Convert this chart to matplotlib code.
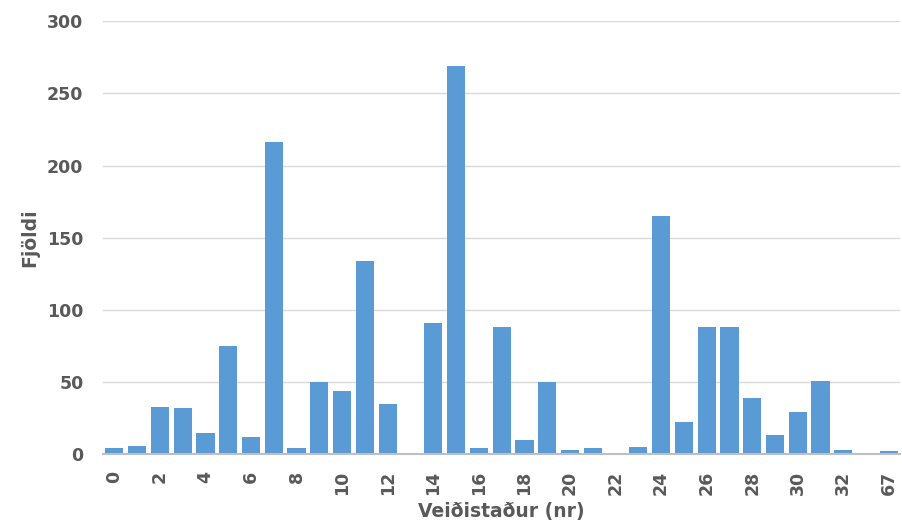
import matplotlib
matplotlib.use("Agg")
import matplotlib.pyplot as plt
import numpy as np

categories = [str(i) for i in range(34)] + ["67"]
values = [4, 6, 33, 32, 15, 75, 12, 216, 4, 50, 44, 134, 35, 1, 91, 269, 4, 88, 10, 50,
          3, 4, 0, 5, 165, 22, 88, 88, 39, 13, 29, 51, 3, 1, 2]
y_ticks = [0, 50, 100, 150, 200, 250, 300]

plt.rcParams['font.family'] = ['DejaVu Sans']
text_color = '#595959'

fig = plt.figure(figsize=(9.03, 5.30), dpi=100)
ax = fig.add_axes([0.114, 0.143, 0.883, 0.817])

x = np.arange(len(categories))
ax.bar(x, values, width=0.8, color='#5B9BD5', zorder=3)

ax.set_xlim(-0.5, len(categories) - 0.5)
ax.set_ylim(0, 300)
ax.set_yticks(y_ticks)
ax.set_yticklabels([str(v) for v in y_ticks], fontsize=12.5, fontweight='bold', color=text_color)
ax.grid(axis='y', color='#D9D9D9', linewidth=1, zorder=0)

ax.set_xticks(x[::2])
ax.set_xticklabels(categories[::2], rotation=90, fontsize=12.5, fontweight='bold', color=text_color)

for s in ['top', 'right', 'left']:
    ax.spines[s].set_visible(False)
ax.spines['bottom'].set_color('#BFBFBF')
ax.spines['bottom'].set_linewidth(1.5)
ax.spines['bottom'].set_zorder(4)
ax.tick_params(axis='both', length=0)
ax.tick_params(axis='y', pad=14)
ax.tick_params(axis='x', pad=12)

ax.set_ylabel('Fjöldi', fontsize=13.5, fontweight='bold', color=text_color, labelpad=6)
ax.set_xlabel('Veiðistaður (nr)', fontsize=13.5, fontweight='bold', color=text_color, labelpad=5)

fig.savefig('out.png', dpi=100)
